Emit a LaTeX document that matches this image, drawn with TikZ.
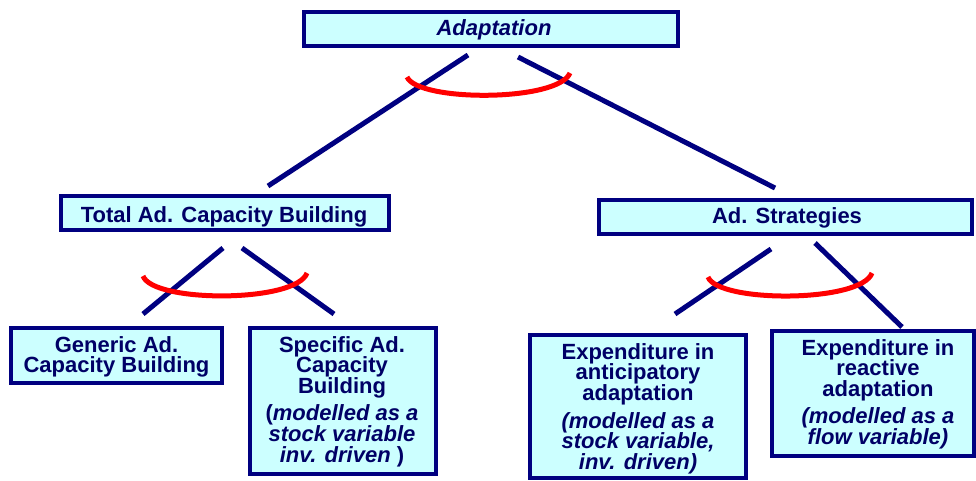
\documentclass[tikz,border=0pt]{standalone}
\usepackage{fontspec}
\setmainfont{Liberation Sans}
\definecolor{navy}{RGB}{0,0,128}
\definecolor{boxfill}{RGB}{204,255,255}
\definecolor{txtnavy}{RGB}{0,0,102}
\begin{document}
\begin{tikzpicture}[x=1pt,y=-1pt,
  box/.style={draw=navy, fill=boxfill, line width=4pt, inner sep=0pt},
  txt/.style={text=txtnavy, font=\fontsize{22}{20.7}\selectfont\bfseries, align=center, inner sep=0pt},
  link/.style={draw=navy, line width=5pt},
  andarc/.style={draw=red, line width=5pt}]
\useasboundingbox (0,0) rectangle (976,480);

% boxes
\node[box, minimum width=374pt, minimum height=34pt] (adapt) at (491,29) {};
\node[box, minimum width=328pt, minimum height=34pt] (total) at (225,213) {};
\node[box, minimum width=373pt, minimum height=34pt] (strat) at (785.5,217) {};
\node[box, minimum width=211pt, minimum height=55pt] (generic) at (116.5,355.5) {};
\node[box, minimum width=186pt, minimum height=146pt] (specific) at (343,401) {};
\node[box, minimum width=216pt, minimum height=143pt] (antic) at (638,406.5) {};
\node[box, minimum width=202pt, minimum height=125pt] (react) at (873,393.5) {};

% texts
\node[txt, anchor=base, font=\fontsize{22}{20.7}\selectfont\bfseries\itshape] (tadapt) at (494,35) {Adaptation};
\node[txt, anchor=base] (ttotal) at (224,222) {Total Ad. Capacity Building};
\node[txt, anchor=base] (tstrat) at (787,223) {Ad. Strategies};
\node[txt, anchor=north] (tgeneric) at (116.5,336) {Generic Ad.\\Capacity Building};
\node[txt, anchor=north] (tspecific) at (342,336) {Specific Ad.\\Capacity\\Building\\[6.5pt](\textit{modelled as a}\\\textit{stock variable}\\\textit{inv. driven} )};
\node[txt, anchor=north] (tantic) at (638,343) {Expenditure in\\anticipatory\\adaptation\\[7pt]\textit{(modelled as a}\\\textit{stock variable,}\\\textit{inv. driven)}};
\node[txt, anchor=north] (treact) at (878,339) {Expenditure in\\reactive\\adaptation\\[6.5pt]\textit{(modelled as a}\\\textit{flow variable)}};

% connector end points
\coordinate (a1) at (468,55);
\coordinate (a2) at (268,186);
\coordinate (a3) at (518,57);
\coordinate (a4) at (775,188);
\coordinate (t1) at (223,248);
\coordinate (t2) at (143,314);
\coordinate (t3) at (242,248);
\coordinate (t4) at (334,314);
\coordinate (s1) at (771,249);
\coordinate (s2) at (675,314);
\coordinate (s3) at (815,243);
\coordinate (s4) at (902,327);

\draw[link] (a1) -- (a2);
\draw[link] (a3) -- (a4);
\draw[link] (t1) -- (t2);
\draw[link] (t3) -- (t4);
\draw[link] (s1) -- (s2);
\draw[link] (s3) -- (s4);

% AND arcs
\draw[andarc] (407,77) .. controls (418,102) and (558,102) .. (570,73);
\draw[andarc] (143,276) .. controls (153,303) and (296,303) .. (307,273);
\draw[andarc] (708,277) .. controls (718,303) and (861,303) .. (872,273);
\end{tikzpicture}
\end{document}
